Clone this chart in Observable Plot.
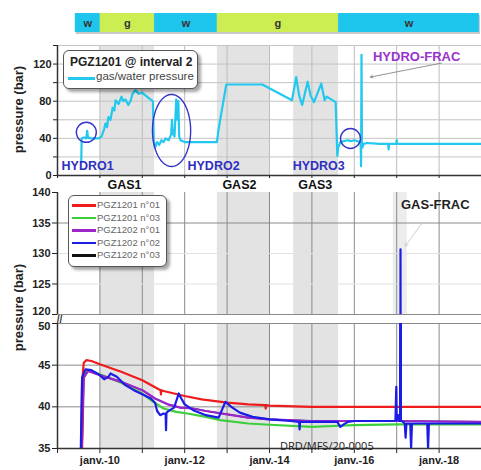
<!DOCTYPE html>
<html><head><meta charset="utf-8">
<script src="https://cdn.jsdelivr.net/npm/d3@7"></script>
<script src="https://cdn.jsdelivr.net/npm/@observablehq/plot@0.6"></script>
<style>
body{margin:0;background:#fff;font-family:"Liberation Sans",Arial,sans-serif;}
#root{position:relative;width:481px;height:470px;overflow:hidden;background:#fff;}
#root svg{position:absolute;left:0;overflow:visible;background:transparent;}
.lg{position:absolute;background:#fff;border:1.5px solid #555;border-radius:6px;box-shadow:3px 3px 3px rgba(0,0,0,0.35);box-sizing:border-box;}
.ylab{position:absolute;font-weight:bold;font-size:13px;color:#222;transform:rotate(-90deg);transform-origin:center;white-space:nowrap;width:110px;text-align:center;}
</style></head><body><div id="root"></div>
<script>
// ---------- data ----------
const years = [2009,2010,2011,2012,2013,2014,2015,2016,2017,2018,2019];
const phaseStart = [2009.42, 2010.01, 2011.29, 2012.77, 2015.63];
const phaseEnd   = [2010.01, 2011.29, 2012.77, 2015.63, 2018.95];
const phaseLabel = ["w","g","w","g","w"];
const gasStart = [2010.01, 2012.77, 2014.57];
const gasEnd   = [2011.29, 2014.02, 2015.63];
const fracStart = [2016.92];
const fracEnd   = [2017.25];

// top chart: PGZ1201 @ interval 2 gas/water pressure
const topT = [2009.56,2009.57,2009.62,2009.68,2009.70,2009.72,2009.78,2009.97,2010.04,2010.10,2010.13,2010.17,2010.20,2010.25,2010.30,2010.34,2010.37,2010.44,2010.51,2010.55,2010.60,2010.67,2010.72,2010.77,2010.84,2010.91,2011.00,2011.08,2011.19,2011.25,2011.27,2011.30,2011.35,2011.40,2011.45,2011.50,2011.55,2011.62,2011.68,2011.70,2011.72,2011.76,2011.80,2011.83,2011.85,2011.87,2011.90,2012.00,2012.76,2012.80,2012.98,2013.83,2014.53,2014.63,2014.70,2014.77,2014.90,2014.97,2015.05,2015.22,2015.30,2015.35,2015.56,2015.60,2015.62,2015.67,2015.75,2015.85,2015.91,2016.00,2016.15,2016.16,2016.17,2016.18,2016.19,2016.22,2016.30,2016.60,2016.80,2016.81,2016.82,2016.99,2017.00,2017.01,2019.00];
const topP = [14,40,41,40,48,41,40,40,42,50,56,52,63,60,73,70,81,77,85,80,82,76,80,88,92,88,89,86,82,80,38,30,36,33,38,36,40,38,44,60,45,42,82,60,80,42,38,36,36,50,98,98,81,106,86,76,101,86,79,99,81,85,79,21,30,36,37,38,37,38,36,10,130,36,30,34,35,34,34,28,34,34,38,34,34];

// bottom chart series
const redT = [2009.56,2009.58,2009.62,2009.68,2009.80,2010.00,2010.50,2011.00,2011.43,2011.44,2011.45,2011.50,2012.00,2012.40,2013.00,2013.50,2013.90,2013.91,2013.92,2014.00,2015.00,2016.00,2017.00,2018.00,2019.00];
const redP = [35,43,45.3,45.6,45.5,45.1,44.2,43.2,42.0,41.5,42.0,41.9,41.3,40.9,40.5,40.3,40.2,39.8,40.2,40.15,40.0,40.0,40.0,40.0,40.0];
const greenT = [2009.56,2009.60,2009.70,2009.80,2010.00,2010.50,2011.00,2011.20,2011.50,2011.80,2012.06,2012.50,2012.84,2013.50,2014.00,2015.00,2015.50,2016.00,2017.00,2019.00];
const greenP = [35,43.5,44.3,44.3,43.9,42.9,41.6,40.8,39.8,39.4,39.2,38.8,38.4,38.0,37.85,37.6,37.7,37.8,37.9,37.9];
const purpleT = [2009.58,2009.62,2009.72,2010.00,2010.50,2011.00,2011.30,2011.60,2011.90,2012.20,2012.50,2013.00,2013.50,2014.00,2015.00,2016.00,2017.00,2019.00];
const purpleP = [35,43.5,44.3,43.8,43.0,42.0,41.0,40.3,39.9,39.8,39.5,39.1,38.7,38.5,38.3,38.3,38.3,38.2];
const blueT = [2009.55,2009.58,2009.66,2009.80,2010.00,2010.10,2010.20,2010.25,2010.40,2010.60,2010.80,2011.00,2011.20,2011.30,2011.35,2011.42,2011.50,2011.55,2011.56,2011.57,2011.65,2011.75,2011.86,2011.92,2012.00,2012.20,2012.50,2012.80,2012.96,2013.10,2013.30,2013.60,2014.00,2014.50,2014.70,2014.71,2014.72,2015.00,2015.60,2015.67,2015.75,2015.85,2016.00,2016.50,2016.97,2016.99,2017.00,2017.03,2017.06,2017.08,2017.09,2017.10,2017.19,2017.21,2017.23,2017.32,2017.34,2017.36,2017.72,2017.74,2017.76,2019.00];
const blueP = [35,43.5,44.5,44.4,43.8,43.3,43.6,44.0,43.6,42.6,42.0,41.5,41.0,40.5,39.5,39.0,39.2,39.1,37.2,39.3,39.6,39.9,41.6,41.0,40.3,39.6,39.0,38.7,40.6,40.0,39.3,38.8,38.5,38.3,38.2,37.3,38.2,38.2,38.2,37.6,37.9,38.2,38.3,38.3,38.3,42.4,38.4,39.0,38.3,38.3,130.7,38.4,38.0,36.3,38.0,38.0,35,38.0,38.0,35,38.0,38.0];
const blackT = [2009.58,2009.62,2009.72,2010.00,2010.50,2011.00,2011.30,2011.60,2011.90,2012.20,2012.50,2013.00,2013.50,2014.00,2015.00,2016.00,2017.00,2019.00];
const blackP = [35,43.5,44.3,43.8,43.0,42.0,41.0,40.3,39.9,39.8,39.5,39.1,38.7,38.5,38.3,38.3,38.3,38.2];

const seriesName = ["PGZ1201 n°01","PGZ1201 n°03","PGZ1202 n°01","PGZ1202 n°02","PGZ1202 n°03"];
const seriesColor = ["#ee1c1c","#3ccf3c","#9b27c9","#1c1ce6","#111111"];

// annotations
const hydroText = ["HYDRO1","HYDRO2","HYDRO3"];
const hydroX = [2009.71, 2012.68, 2015.16];
const hydroY = [10, 10, 10];
const gasText = ["GAS1","GAS2","GAS3"];
const gasX = [2010.58, 2013.29, 2015.08];
const circleX = [2009.68, 2015.91];
const circleY = [46.5, 39.8];
const ellipseCenter = [2011.69, 48.5];
const ellipseRadius = [0.45, 38.8];
const topGrid = [20,40,60,80,100,120,140];
const topTicks = [0,20,40,60,80,100,120,140];
const upTicks = [120,125,130,135,140];
const lowTicks = [35,40,45,50];

// ---------- helpers ----------
const rows = (t, p) => t.map((d, i) => ({t: d, p: p[i]}));
const bands = (s, e) => s.map((d, i) => ({s: d, e: e[i]}));
const FONT = "Liberation Sans, Arial, sans-serif";
const baseStyle = {fontFamily: FONT, fontSize: "11px", fontWeight: "bold", color: "#222", background: "transparent", overflow: "visible"};
const root = document.getElementById("root");
function place(svg, top) { svg.style.top = top + "px"; root.appendChild(svg); }
const X = {domain: [2009, 2019]};

// ---------- phase band ----------
const phaseRows = phaseStart.map((d, i) => ({s: d, e: phaseEnd[i], label: phaseLabel[i]}));
const phaseColor = {w: "#1ec6ee", g: "#cdee52"};
place(Plot.plot({
  width: 481, height: 40, marginLeft: 57, marginRight: 0, marginTop: 13, marginBottom: 8,
  style: baseStyle, x: {...X, axis: null}, y: {domain: [0, 1], axis: null},
  marks: [
    Plot.rect([{s: phaseStart[0], e: phaseEnd[phaseEnd.length - 1]}], {x1: "s", x2: "e", y1: 0, y2: 1, dx: 1, dy: 2, fill: "#c8c8c8"}),
    Plot.rect(phaseRows, {x1: "s", x2: "e", y1: 0, y2: 1, fill: d => phaseColor[d.label]}),
    Plot.text(phaseRows, {x: d => (d.s + d.e) / 2, y: 0.5, text: "label", fontSize: 11, fontWeight: "bold", fill: "#333"})
  ]
}), 0);

// ---------- top chart ----------
const ellipsePts = d3.range(0, 2 * Math.PI + 0.05, 0.05).map(a => ({t: ellipseCenter[0] + ellipseRadius[0] * Math.cos(a), p: ellipseCenter[1] + ellipseRadius[1] * Math.sin(a)}));
place(Plot.plot({
  width: 481, height: 152, marginLeft: 57, marginRight: 0, marginTop: 5, marginBottom: 17,
  style: baseStyle,
  x: {...X, ticks: years, tickFormat: () => "", tickSize: 3},
  y: {domain: [0, 140], ticks: topTicks, tickFormat: d => d % 40 === 0 ? d : "", tickSize: 4, tickPadding: 2, label: null},
  marks: [
    Plot.rect(bands(gasStart, gasEnd), {x1: "s", x2: "e", y1: 0, y2: 140, fill: "#dadada", fillOpacity: 0.75}),
    Plot.ruleX(years, {stroke: "#bdbdbd", strokeWidth: 1}),
    Plot.ruleY(topGrid, {stroke: "#c4c4c4", strokeWidth: 1}),
    Plot.line(rows(topT, topP), {x: "t", y: "p", stroke: "#22c8ee", strokeWidth: 2.2}),
    Plot.dot(rows(circleX, circleY), {x: "t", y: "p", r: 10, stroke: "#3535c8", strokeWidth: 1.4, fill: "none"}),
    Plot.line(ellipsePts, {x: "t", y: "p", stroke: "#3535c8", strokeWidth: 1.4}),
    Plot.ruleX([2009], {stroke: "#333", strokeWidth: 1.5}),
    Plot.ruleY([0], {stroke: "#333", strokeWidth: 1.5}),
    Plot.text(hydroText, {x: (d, i) => hydroX[i], y: (d, i) => hydroY[i], text: d => d, fontSize: 12.5, fontWeight: "bold", fill: "#2f2fc0"}),
    Plot.text(["HYDRO-FRAC"], {x: 2017.47, y: 127.5, text: d => d, fontSize: 13, fontWeight: "bold", fill: "#9933cc"}),
    Plot.arrow([{x1: 2018.05, y1: 121, x2: 2016.38, y2: 106}], {x1: "x1", y1: "y1", x2: "x2", y2: "y2", stroke: "#777", strokeWidth: 0.8, headLength: 5}),
    Plot.text(gasText, {x: (d, i) => gasX[i], y: 0, text: d => d, dy: 5, lineAnchor: "top", fontSize: 12.5, fontWeight: "bold", fill: "#111"})
  ]
}), 40);

// ---------- bottom chart (upper part 120-140) ----------
const lineMarks = [
  Plot.line(rows(blackT, blackP), {x: "t", y: "p", stroke: seriesColor[4], strokeWidth: 1.5, clip: true}),
  Plot.line(rows(greenT, greenP), {x: "t", y: "p", stroke: seriesColor[1], strokeWidth: 2.2, clip: true}),
  Plot.line(rows(purpleT, purpleP), {x: "t", y: "p", stroke: seriesColor[2], strokeWidth: 2.2, clip: true}),
  Plot.line(rows(redT, redP), {x: "t", y: "p", stroke: seriesColor[0], strokeWidth: 2.2, clip: true}),
  Plot.line(rows(blueT, blueP), {x: "t", y: "p", stroke: seriesColor[3], strokeWidth: 2.2, clip: true})
];
place(Plot.plot({
  width: 481, height: 132, marginLeft: 57, marginRight: 0, marginTop: 6, marginBottom: 4,
  style: baseStyle,
  x: {...X, axis: null},
  y: {domain: [120, 140], ticks: upTicks, tickFormat: d => d === 120 ? "" : d, tickSize: 5, tickPadding: 2, label: null},
  marks: [
    Plot.rect(bands(gasStart, gasEnd), {x1: "s", x2: "e", y1: 120, y2: 140, fill: "#dadada", fillOpacity: 0.75}),
    Plot.rect(bands(fracStart, fracEnd), {x1: "s", x2: "e", y1: 120, y2: 140, fill: "#e4e4e4", fillOpacity: 0.7}),
    Plot.ruleX(years, {stroke: "#8a8a8a", strokeWidth: 1}),
    Plot.ruleY([120, 135], {stroke: "#8a8a8a", strokeWidth: 1}),
    Plot.ruleY([125, 130], {stroke: "#e2e2e2", strokeWidth: 1}),
    ...lineMarks,
    Plot.ruleX([2009], {stroke: "#333", strokeWidth: 1.5}),
    Plot.text([upTicks[0]], {x: 2009, y: d => d, text: d => String(d), dx: -7, dy: -3, textAnchor: "end", fontSize: 11, fontWeight: "bold", fill: "#222"}),
    Plot.text(["GAS-FRAC"], {x: 2017.91, y: 137.9, text: d => d, fontSize: 13, fontWeight: "bold", fill: "#222"}),
    Plot.arrow([{x1: 2017.6, y1: 135, x2: 2017.2, y2: 131.2}], {x1: "x1", y1: "y1", x2: "x2", y2: "y2", stroke: "#cfcfcf", strokeWidth: 1, headLength: 5})
  ]
}), 186);

// ---------- bottom chart (lower part 35-50) ----------
place(Plot.plot({
  width: 481, height: 152, marginLeft: 57, marginRight: 0, marginTop: 5, marginBottom: 22,
  style: baseStyle,
  x: {...X, ticks: years, tickFormat: d => d % 2 === 0 && d > 2009 && d < 2019 ? "janv.-" + String(d).slice(2) : "", tickSize: 5, tickPadding: 3, label: null},
  y: {domain: [35, 50], ticks: lowTicks, tickFormat: d => d === 50 ? "" : d, tickSize: 5, tickPadding: 2, label: null},
  marks: [
    Plot.rect(bands(gasStart, gasEnd), {x1: "s", x2: "e", y1: 35, y2: 50, fill: "#dadada", fillOpacity: 0.75}),
    Plot.ruleX(years, {stroke: "#8a8a8a", strokeWidth: 1}),
    Plot.ruleY([40, 45, 50], {stroke: "#8a8a8a", strokeWidth: 1}),
    ...lineMarks,
    Plot.ruleX([2009], {stroke: "#333", strokeWidth: 1.5}),
    Plot.ruleY([35], {stroke: "#333", strokeWidth: 1.5}),
    Plot.text([lowTicks[lowTicks.length - 1]], {x: 2009, y: d => d, text: d => String(d), dx: -7, dy: 3, textAnchor: "end", fontSize: 11, fontWeight: "bold", fill: "#222"}),
    Plot.text(["//"], {x: 2009, y: 50, text: d => d, dx: 2, dy: -4, fontSize: 10, fontWeight: "bold", fill: "#333"})
  ]
}), 318);

// ---------- legends and html text ----------
const lg1 = document.createElement("div");
lg1.className = "lg";
Object.assign(lg1.style, {left: "63px", top: "50px", width: "135px", height: "39px"});
lg1.innerHTML = '<div style="position:absolute;left:6px;top:4px;font-weight:bold;font-size:12px;color:#222;white-space:nowrap">PGZ1201 @ interval 2</div>' +
  '<div style="position:absolute;left:4px;top:26px;width:27px;height:2.5px;background:#22c8ee"></div>' +
  '<div style="position:absolute;left:32px;top:19px;font-size:11.5px;color:#444;white-space:nowrap">gas/water pressure</div>';
root.appendChild(lg1);

const lg2 = document.createElement("div");
lg2.className = "lg";
Object.assign(lg2.style, {left: "68px", top: "195px", width: "99px", height: "72px"});
let h = "";
seriesName.forEach((n, i) => {
  const y = 9 + i * 12.6;
  h += '<div style="position:absolute;left:3px;top:' + (y - 1) + 'px;width:24px;height:2.5px;background:' + seriesColor[i] + '"></div>' +
       '<div style="position:absolute;left:28px;top:' + (y - 6) + 'px;font-size:9.5px;line-height:11px;color:#666;white-space:nowrap">' + n + '</div>';
});
lg2.innerHTML = h;
root.appendChild(lg2);

function ylab(top) {
  const d = document.createElement("div");
  d.className = "ylab";
  d.textContent = "pressure (bar)";
  Object.assign(d.style, {left: (18 - 55) + "px", top: (top - 8) + "px"});
  root.appendChild(d);
}
ylab(110);
ylab(308);

const wm = document.createElement("div");
wm.textContent = "DRD/MFS/20-0005";
Object.assign(wm.style, {position: "absolute", left: "280px", top: "439px", fontFamily: "Open Sans, sans-serif", fontSize: "11px", lineHeight: "14px", color: "#222", whiteSpace: "nowrap"});
root.appendChild(wm);
</script></body></html>
